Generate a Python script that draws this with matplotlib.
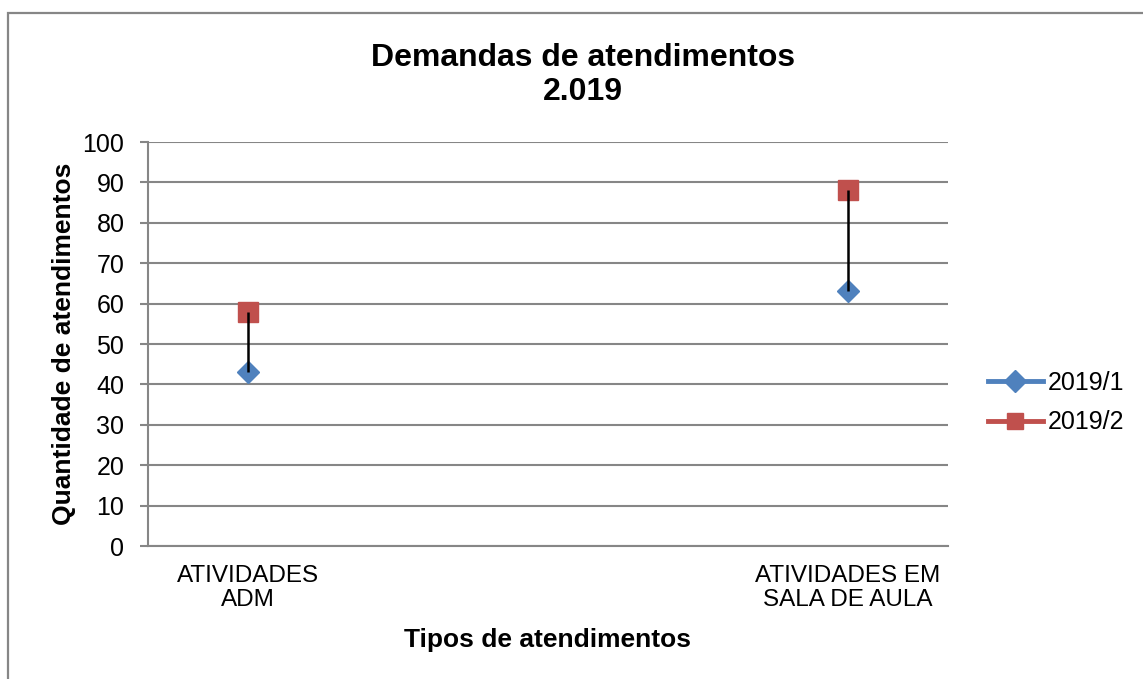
import matplotlib.pyplot as plt
from matplotlib.patches import Rectangle

# ==========================================
# Data
# ==========================================

categorias = ["ATIVIDADES\nADM", "ATIVIDADES EM\nSALA DE AULA"]
serie_2019_1 = [43, 63]
serie_2019_2 = [58, 88]
y_ticks = list(range(0, 101, 10))

azul = "#4F81BD"
vermelho = "#C0504D"
cinza = "#868686"

plt.rcParams["font.family"] = ["Liberation Sans", "DejaVu Sans"]

# ==========================================
# Figure
# ==========================================

fig = plt.figure(figsize=(11.43, 6.79), dpi=100)

# outer chart border (only top/left visible in the crop)
fig.patches.append(
    Rectangle((8 / 1143, -0.1), 1.2, 0.1 + (679 - 13) / 679,
              transform=fig.transFigure, fill=False,
              edgecolor=cinza, linewidth=1.6)
)

ax = fig.add_axes([148 / 1143, (679 - 546) / 679, 800 / 1143, 404 / 679])

x = list(range(len(categorias)))

ax.plot(x, serie_2019_1, linestyle="none", marker="D", markersize=11,
        color=azul, label="2019/1", zorder=3)
ax.plot(x, serie_2019_2, linestyle="none", marker="s", markersize=14,
        color=vermelho, label="2019/2", zorder=3)

# high-low lines
ax.vlines(x, serie_2019_1, serie_2019_2, color="black", linewidth=1.8, zorder=4)

ax.set_xlim(-1 / 6, 1 + 1 / 6)
ax.set_ylim(0, 100)
ax.set_yticks(y_ticks)
ax.set_xticks(x)
ax.set_xticklabels(categorias, fontsize=17.5, linespacing=1.12)
ax.tick_params(axis="x", length=0, pad=14)
ax.tick_params(axis="y", labelsize=18, length=6, width=1.5, color=cinza, pad=11)

ax.grid(axis="y", color=cinza, linewidth=1.5)
ax.set_axisbelow(True)

for s in ["top", "right"]:
    ax.spines[s].set_visible(False)
ax.spines["left"].set_color(cinza)
ax.spines["left"].set_linewidth(1.5)
ax.spines["bottom"].set_color(cinza)
ax.spines["bottom"].set_linewidth(1.5)

ax.set_ylabel("Quantidade de atendimentos", fontsize=19, fontweight="bold", labelpad=5)
ax.set_xlabel("Tipos de atendimentos", fontsize=19, fontweight="bold", labelpad=12)

fig.text(583 / 1143, 1 - 75 / 679, "Demandas de atendimentos\n2.019",
         ha="center", va="center", fontsize=23, fontweight="bold", linespacing=1.2)

# legend with line through markers
h1, = ax.plot([], [], color=azul, marker="D", markersize=11, linewidth=3.5)
h2, = ax.plot([], [], color=vermelho, marker="s", markersize=12, linewidth=3.5)
ax.legend([h1, h2], ["2019/1", "2019/2"], loc="center left",
          bbox_to_anchor=(1.05, 0.355), frameon=False, fontsize=18,
          handlelength=2.2, handletextpad=0.2, labelspacing=0.62,
          borderpad=0, borderaxespad=0)

plt.savefig("out.png", dpi=100)
